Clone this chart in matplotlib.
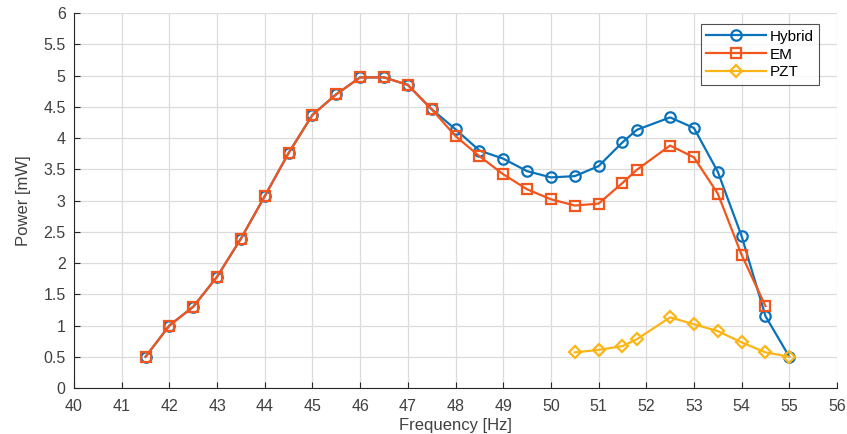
import numpy as np
import matplotlib.pyplot as plt

plt.rcParams['font.family'] = ['Liberation Sans', 'DejaVu Sans']

# frequency points [Hz]
f_hybrid = [41.5, 42, 42.5, 43, 43.5, 44, 44.5, 45, 45.5, 46, 46.5, 47, 47.5,
            48, 48.5, 49, 49.5, 50, 50.5, 51, 51.5, 51.8, 52.5, 53, 53.5, 54, 54.5, 55]
p_hybrid = [0.5, 1.0, 1.3, 1.78, 2.39, 3.07, 3.76, 4.37, 4.70, 4.97, 4.97, 4.85, 4.46,
            4.14, 3.80, 3.67, 3.47, 3.37, 3.39, 3.55, 3.93, 4.13, 4.33, 4.16, 3.46, 2.43, 1.15, 0.5]

f_em = [41.5, 42, 42.5, 43, 43.5, 44, 44.5, 45, 45.5, 46, 46.5, 47, 47.5,
        48, 48.5, 49, 49.5, 50, 50.5, 51, 51.5, 51.8, 52.5, 53, 53.5, 54, 54.5]
p_em = [0.5, 1.0, 1.3, 1.78, 2.39, 3.07, 3.76, 4.37, 4.70, 4.97, 4.97, 4.85, 4.46,
        4.03, 3.71, 3.42, 3.18, 3.02, 2.92, 2.95, 3.28, 3.49, 3.88, 3.69, 3.11, 2.13, 1.31]

f_pzt = [50.5, 51, 51.5, 51.8, 52.5, 53, 53.5, 54, 54.5, 55]
p_pzt = [0.57, 0.61, 0.67, 0.78, 1.13, 1.02, 0.91, 0.73, 0.57, 0.5]

fig = plt.figure(figsize=(8.47, 4.34), dpi=100)
ax = fig.add_axes([0.0874, 0.106, 0.9008, 0.864])

ax.plot(f_hybrid, p_hybrid, '-o', color='#0A72BA', lw=1.6, ms=7.5, mfc='none', mew=1.6, label='Hybrid')
ax.plot(f_em, p_em, '-s', color='#F2561D', lw=1.6, ms=6.5, mfc='none', mew=1.6, label='EM')
ax.plot(f_pzt, p_pzt, '-D', color='#FDB515', lw=1.6, ms=6.5, mfc='none', mew=1.6, label='PZT')

ax.set_xlim(40, 56)
ax.set_ylim(0, 6)
ax.set_xticks(np.arange(40, 57, 1))
ax.set_yticks(np.arange(0, 6.01, 0.5))
ax.set_yticklabels(['0', '0.5', '1', '1.5', '2', '2.5', '3', '3.5', '4', '4.5', '5', '5.5', '6'])
ax.grid(True, color='#DCDCDC', lw=0.9)
ax.set_axisbelow(True)
for s in ['top', 'right']:
    ax.spines[s].set_visible(False)
for s in ['left', 'bottom']:
    ax.spines[s].set_color('#262626')
ax.tick_params(direction='in', length=4, colors='#262626', labelsize=11.5, labelcolor='#404040')
ax.tick_params(axis='x', pad=8)
ax.tick_params(axis='y', pad=6)
ax.set_xlabel('Frequency [Hz]', fontsize=12, color='#404040', labelpad=3)
ax.set_ylabel('Power [mW]', fontsize=12, color='#404040', labelpad=9)

leg = ax.legend(loc='upper right', bbox_to_anchor=(0.987, 0.99), fontsize=11, frameon=True,
                fancybox=False, edgecolor='#262626', handlelength=3.9, borderpad=0.35,
                labelspacing=0.25, handletextpad=0.3)
leg.get_frame().set_linewidth(0.8)

fig.savefig('out.png', dpi=100)
